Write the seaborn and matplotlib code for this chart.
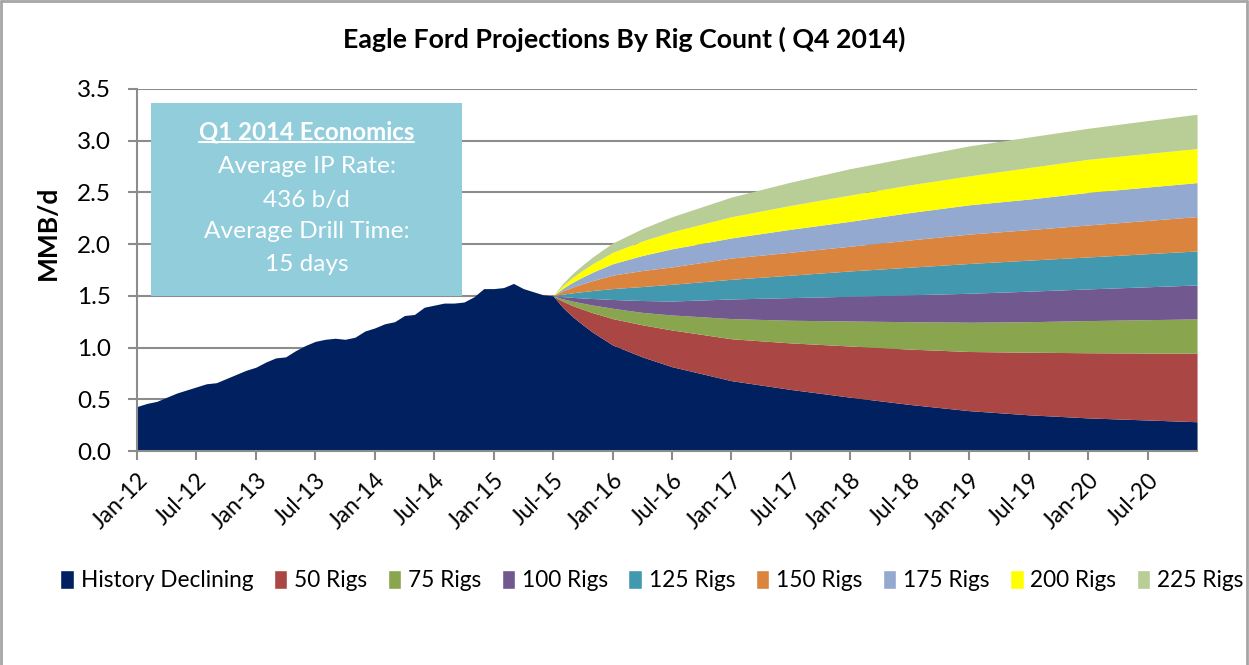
import pandas as pd
import seaborn as sns
import matplotlib.pyplot as plt
from matplotlib.patches import Rectangle, Patch
from matplotlib.lines import Line2D

# Set style
sns.set_theme(style="white")
plt.rcParams['font.family'] = ['Lato', 'DejaVu Sans']
plt.rcParams['text.color'] = 'black'
plt.rcParams['xtick.color'] = 'black'
plt.rcParams['ytick.color'] = 'black'

# --- data (MMB/d) ---
history_start = "2012-01"
# monthly history, Jan-12 .. Jul-15
history = [0.43, 0.46, 0.48, 0.52, 0.56, 0.59, 0.62, 0.65, 0.66, 0.70,
           0.74, 0.78, 0.81, 0.86, 0.90, 0.91, 0.97, 1.02, 1.06, 1.08,
           1.09, 1.08, 1.10, 1.16, 1.19, 1.23, 1.25, 1.31, 1.32, 1.39,
           1.41, 1.43, 1.43, 1.44, 1.49, 1.57, 1.57, 1.58, 1.62, 1.57,
           1.54, 1.51, 1.50]

# projection dates and the total production of each scenario
proj_months = ["2015-07", "2015-08", "2015-09", "2015-10", "2015-11", "2015-12",
               "2016-01", "2016-04", "2016-07", "2017-01", "2017-07", "2018-01",
               "2018-07", "2019-01", "2019-07", "2020-01", "2020-12"]
declining = [1.50, 1.386, 1.296, 1.22, 1.148, 1.087, 1.025, 0.91, 0.815,
             0.68, 0.595, 0.52, 0.45, 0.39, 0.35, 0.32, 0.283]
rigs_50 = [1.50, 1.447, 1.405, 1.37, 1.337, 1.309, 1.28, 1.22, 1.17,
           1.085, 1.045, 1.015, 0.985, 0.962, 0.955, 0.95, 0.945]
rigs_75 = [1.50, 1.471, 1.448, 1.429, 1.411, 1.396, 1.38, 1.34, 1.315,
           1.28, 1.264, 1.257, 1.25, 1.245, 1.25, 1.261, 1.277]
rigs_100 = [1.50, 1.492, 1.485, 1.479, 1.474, 1.47, 1.465, 1.455, 1.45,
            1.47, 1.483, 1.496, 1.51, 1.525, 1.545, 1.567, 1.605]
rigs_125 = [1.50, 1.517, 1.53, 1.541, 1.552, 1.561, 1.57, 1.59, 1.612,
            1.66, 1.70, 1.741, 1.777, 1.813, 1.845, 1.876, 1.934]
rigs_150 = [1.50, 1.548, 1.586, 1.618, 1.648, 1.674, 1.70, 1.745, 1.78,
            1.865, 1.922, 1.98, 2.04, 2.097, 2.14, 2.185, 2.266]
rigs_175 = [1.50, 1.574, 1.633, 1.683, 1.729, 1.77, 1.81, 1.89, 1.955,
            2.06, 2.144, 2.221, 2.305, 2.38, 2.435, 2.50, 2.595]
rigs_200 = [1.50, 1.601, 1.681, 1.748, 1.811, 1.865, 1.92, 2.03, 2.12,
            2.265, 2.375, 2.475, 2.573, 2.66, 2.74, 2.82, 2.924]
rigs_225 = [1.50, 1.622, 1.719, 1.801, 1.877, 1.944, 2.01, 2.15, 2.265,
            2.455, 2.60, 2.73, 2.84, 2.95, 3.035, 3.12, 3.256]

series = [
    ("50 Rigs", rigs_50, "#AA4643"),
    ("75 Rigs", rigs_75, "#89A54E"),
    ("100 Rigs", rigs_100, "#71588F"),
    ("125 Rigs", rigs_125, "#4198AF"),
    ("150 Rigs", rigs_150, "#DB843D"),
    ("175 Rigs", rigs_175, "#93A9CF"),
    ("200 Rigs", rigs_200, "#FFFF00"),
    ("225 Rigs", rigs_225, "#B9CD96"),
]
navy = "#00205F"
grid_gray = "#8C8C8C"


def month_index(p, start):
    return (p.year - start.year) * 12 + (p.month - start.month)


def main():
    start = pd.Period(history_start, freq="M")
    end = pd.Period(proj_months[-1], freq="M")

    hist_df = pd.DataFrame({
        "period": pd.period_range(start, periods=len(history), freq="M"),
        "value": history,
    })
    proj_df = pd.DataFrame({"period": [pd.Period(m, freq="M") for m in proj_months],
                            "declining": declining})
    for name, vals, _ in series:
        proj_df[name] = vals
    hist_df["x"] = [month_index(p, start) for p in hist_df["period"]]
    proj_df["x"] = [month_index(p, start) for p in proj_df["period"]]

    # History Declining = history followed by the decline of existing wells
    base = pd.concat([hist_df[["x", "value"]],
                      proj_df[["x", "declining"]].rename(columns={"declining": "value"}).iloc[1:]])

    fig = plt.figure(figsize=(12.49, 6.65), dpi=100)
    ax = fig.add_axes([0.1097, 0.3218, 0.8487, 0.5444])

    ax.fill_between(base["x"], 0, base["value"], color=navy, lw=0, zorder=2)
    lower = proj_df["declining"]
    for name, _, color in series:
        ax.fill_between(proj_df["x"], lower, proj_df[name], color=color, lw=0, zorder=2)
        lower = proj_df[name]

    n_months = month_index(end, start)
    ax.set_xlim(0, n_months)
    ax.set_ylim(0, 3.5)

    ticks = list(range(0, n_months + 1, 6))
    ax.set_xticks(ticks)
    ax.set_xticklabels([(start + t).strftime("%b-%y") for t in ticks],
                       rotation=45, ha="right", rotation_mode="anchor", fontsize=16.5)
    yt = [i * 0.5 for i in range(8)]
    ax.set_yticks(yt)
    ax.set_yticklabels([f"{v:.1f}" for v in yt], fontsize=17.5)
    ax.tick_params(axis="both", direction="out", length=6.5, width=1.5, color=grid_gray,
                   bottom=True, left=True)
    ax.tick_params(axis="y", pad=12)
    ax.tick_params(axis="x", pad=7)

    ax.grid(False)
    for v in yt[1:]:
        ax.axhline(v, color=grid_gray, lw=1.5, zorder=1)
    sns.despine(ax=ax, top=True, right=True)
    for s in ("left", "bottom"):
        ax.spines[s].set_color(grid_gray)
        ax.spines[s].set_linewidth(1.5)
        ax.spines[s].set_zorder(3)

    fig.text(0.0384, 0.6496, "MMB/d", rotation=90, ha="center", va="center",
             fontsize=19, fontweight="bold")
    fig.text(0.5, 0.941, "Eagle Ford Projections By Rig Count ( Q4 2014)",
             ha="center", va="center", fontsize=19.3, fontweight="bold")

    # text box
    ax.add_patch(Rectangle((0.0132, 0.428), 0.2934, 0.534, transform=ax.transAxes,
                           facecolor="#92CDDC", edgecolor="none", zorder=4))
    cx = 0.16
    head = ax.text(cx, 0.881, "Q1 2014 Economics", transform=ax.transAxes, ha="center",
                   va="center", color="white", fontsize=17.3, fontweight="bold", zorder=5)
    for y, txt in [(0.787, "Average IP Rate:"), (0.693, "436 b/d"),
                   (0.605, "Average Drill Time:"), (0.514, "15 days")]:
        ax.text(cx, y, txt, transform=ax.transAxes, ha="center", va="center",
                color="white", fontsize=17.6, zorder=5)

    # underline the heading
    fig.canvas.draw()
    bb = head.get_window_extent().transformed(ax.transAxes.inverted())
    ax.add_line(Line2D([bb.x0, bb.x1], [bb.y0 + 0.004, bb.y0 + 0.004], transform=ax.transAxes,
                       color="white", lw=1.5, zorder=5))

    handles = [Patch(facecolor=navy, label="History Declining")]
    handles += [Patch(facecolor=c, label=n) for n, _, c in series]
    fig.legend(handles=handles, loc="center", bbox_to_anchor=(0.522, 0.127), ncol=9,
               frameon=False, fontsize=16.3, handlelength=0.6, handleheight=0.9,
               handletextpad=0.3, columnspacing=0.9)

    # outer chart border
    for xs, ys in [([0.001, 0.001], [0, 0.999]), ([0.001, 0.998], [0.998, 0.998]),
                   ([0.998, 0.998], [0, 0.999])]:
        fig.add_artist(Line2D(xs, ys, transform=fig.transFigure, color="#A6A6A6", lw=2))

    fig.savefig("out.png", dpi=100)
    plt.close(fig)


if __name__ == "__main__":
    main()
